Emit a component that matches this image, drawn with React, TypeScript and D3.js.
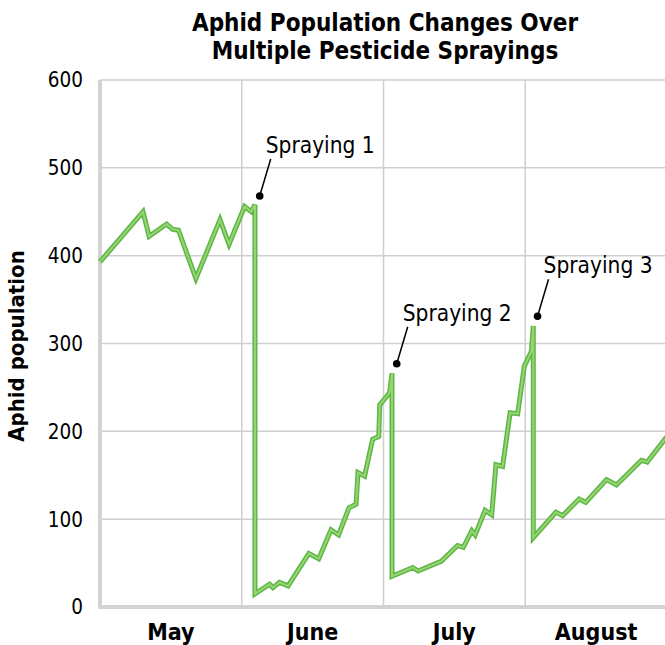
import * as d3 from "d3";

// days since May 1 (30-day months on the axis) and counted aphids
const sampleDay = [
  0, 9.1, 10.4, 14.1, 15.4, 16.6, 20.3, 25.4, 27.3, 30.6, 32.0, 32.8,
  32.8, 35.9, 36.6, 38.0, 39.8, 44.2, 46.3, 48.9, 50.5, 52.7, 54.2, 54.6, 56.0, 57.7, 59.0, 59.2, 61.3, 61.8,
  61.8, 66.2, 67.3, 72.2, 75.7, 76.9, 78.7, 79.4, 81.5, 82.9, 83.8, 85.2, 86.8, 88.4, 89.8, 91.3, 91.7,
  91.7, 96.5, 97.9, 101.4, 102.8, 107.2, 109.3, 114.6, 115.8, 120,
];
const aphidCount = [
  393, 450, 422, 436, 430, 429, 374, 441, 413, 456, 450, 458,
  15, 26, 22, 28, 24, 61, 55, 88, 82, 113, 117, 153, 149, 191, 194, 230, 244, 266,
  35, 45, 41, 52, 70, 68, 87, 82, 110, 105, 162, 160, 221, 220, 274, 291, 320,
  79, 108, 104, 123, 119, 145, 139, 167, 165, 194,
];

const months = ["May", "June", "July", "August"];
const monthStart = [0, 30, 60, 90];
const yTicks = [0, 100, 200, 300, 400, 500, 600];

const sprayLabels = ["Spraying 1", "Spraying 2", "Spraying 3"];
const sprayDay = [33.8, 62.8, 92.6];
const sprayCount = [468, 277, 331];

const W = 665;
const H = 645;
const font = "'DejaVu Sans Condensed', 'DejaVu Sans', sans-serif";

export default function App() {
  const x = d3.scaleLinear([0, 120], [100, 667]);
  const y = d3.scaleLinear([0, 600], [607, 80]);
  const pts = sampleDay.map((d, i) => [d, aphidCount[i]] as [number, number]);
  const line = d3.line<[number, number]>((d) => x(d[0]), (d) => y(d[1]));
  const path = line(pts) as string;

  return (
    <div style={{ position: "absolute", left: 0, top: 0 }}>
      <svg width={W} height={H} style={{ display: "block", fontFamily: font, fontStretch: "condensed" }}>
        <rect width={W} height={H} fill="white" />
        <text x={385} y={31} textAnchor="middle" fontSize={24} fontWeight="bold">
          Aphid Population Changes Over
        </text>
        <text x={385} y={59} textAnchor="middle" fontSize={24} fontWeight="bold">
          Multiple Pesticide Sprayings
        </text>

        {/* grid */}
        {yTicks.slice(1).map((t) => (
          <line key={t} x1={x(0)} x2={W} y1={y(t)} y2={y(t)} stroke="#cfcfcf" strokeWidth={1.5} />
        ))}
        {monthStart.slice(1).map((m) => (
          <line key={m} x1={x(m)} x2={x(m)} y1={y(600)} y2={y(0)} stroke="#cfcfcf" strokeWidth={1.5} />
        ))}
        <line x1={x(0)} x2={x(0)} y1={y(600)} y2={y(0) + 2} stroke="#d3d3d3" strokeWidth={4} />
        <line x1={x(0) - 2} x2={W} y1={y(0)} y2={y(0)} stroke="#d3d3d3" strokeWidth={4} />

        {yTicks.map((t) => (
          <text key={t} x={83} y={y(t)} dy="0.36em" textAnchor="end" fontSize={20.5}>
            {t}
          </text>
        ))}
        {months.map((m, i) => (
          <text key={m} x={x(monthStart[i] + 15)} y={640} textAnchor="middle" fontSize={23} fontWeight="bold">
            {m}
          </text>
        ))}
        <text transform={`translate(24,${346}) rotate(-90)`} textAnchor="middle" fontSize={22} fontWeight="bold">
          Aphid population
        </text>

        <path d={path} fill="none" stroke="#5fb547" strokeWidth={5} />
        <path d={path} fill="none" stroke="#95d671" strokeWidth={2} />

        {sprayLabels.map((s, i) => {
          const cx = x(sprayDay[i]);
          const cy = y(sprayCount[i]);
          return (
            <g key={s}>
              <line x1={cx} y1={cy} x2={cx + 11} y2={cy - 37} stroke="black" strokeWidth={1.5} />
              <circle cx={cx} cy={cy} r={3.8} fill="black" />
              <text x={cx + 6} y={cy - 43} fontSize={22.5}>
                {s}
              </text>
            </g>
          );
        })}
      </svg>
    </div>
  );
}
